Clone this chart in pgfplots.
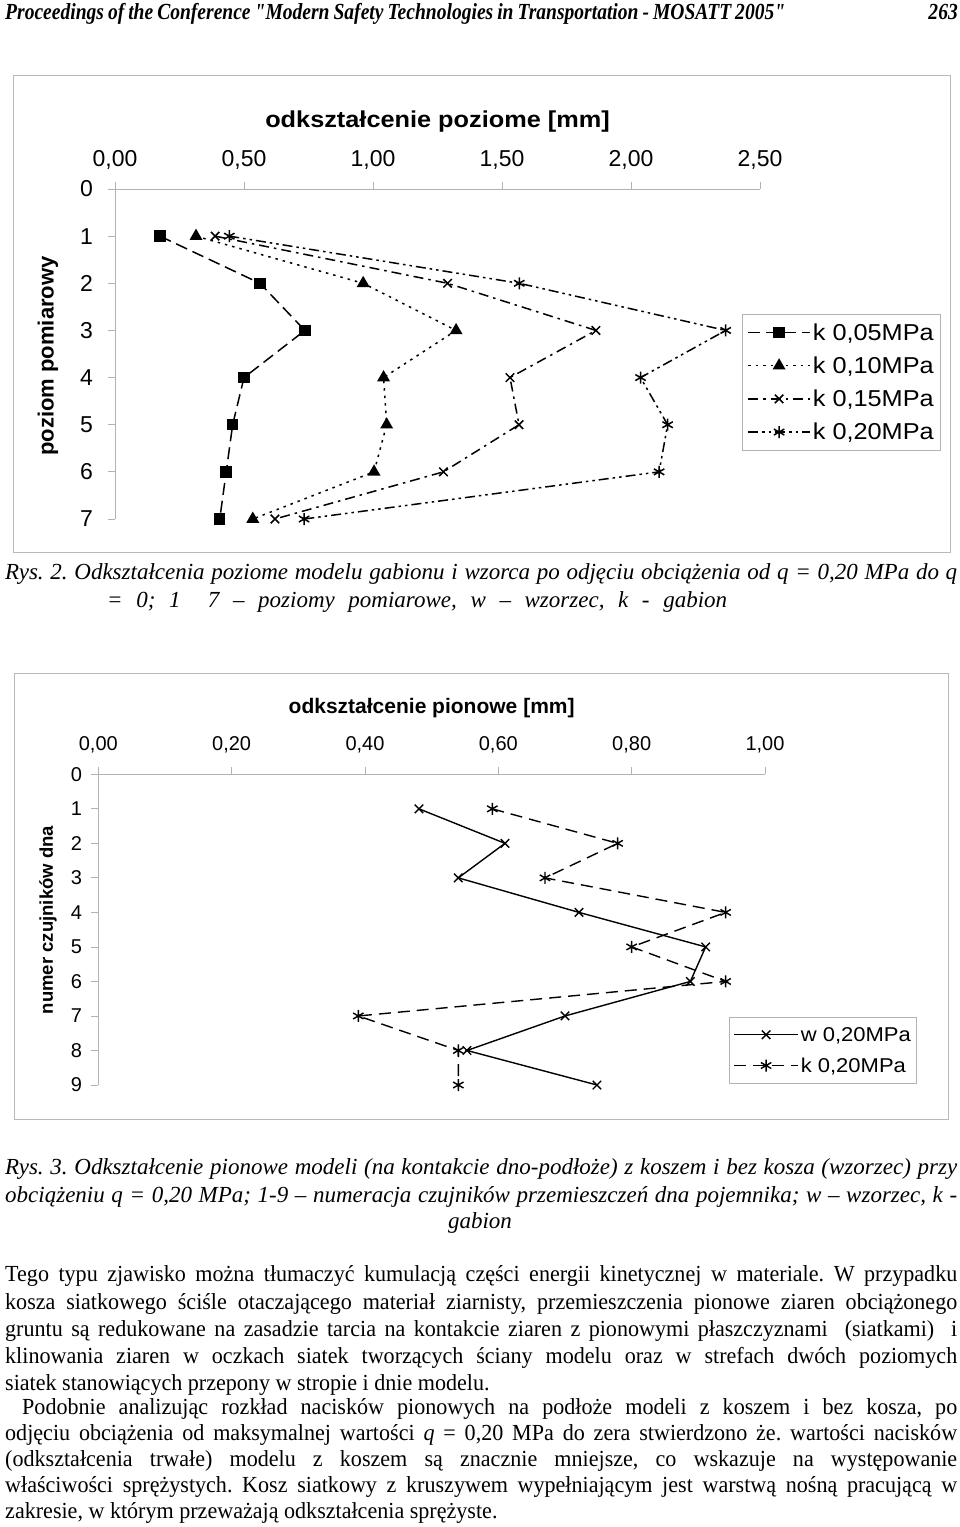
\documentclass[border=0pt]{standalone}
\usepackage{fontspec}
\setmainfont{Liberation Serif}[FakeStretch=0.96]
\newfontfamily\itf{Liberation Serif}[FakeStretch=1.0]
\newfontfamily\hdr{Liberation Serif}[FakeStretch=0.85, Ligatures=TeXOff]
\newfontfamily\arial{Liberation Sans}
\newfontfamily\arialx{Liberation Sans}[FakeStretch=1.1]
\usepackage{pgfplots}
\pgfplotsset{compat=1.18}
\frenchspacing
\newcommand\tf{\fontsize{23}{27}\selectfont\frenchspacing}
\newcommand\J[2]{\node[anchor=base west,inner sep=0pt,font=\tf] at (5pt,-#1pt) {\makebox[952pt][s]{#2}};}
\newcommand\JI[3]{\node[anchor=base west,inner sep=0pt,font=\tf] at (#1pt,-#2pt) {\makebox[\dimexpr957pt-#1pt\relax][s]{#3}};}
\newcommand\Lf[3]{\node[anchor=base west,inner sep=0pt,font=\tf] at (#1pt,-#2pt) {#3};}
\begin{document}
\begin{tikzpicture}
\useasboundingbox (0pt,0pt) rectangle (960pt,-1527pt);
% header
\node[anchor=base west,inner sep=0pt,font=\hdr\fontsize{23}{24}\selectfont\bfseries\itshape] at (5pt,-19pt) {\makebox[780pt][s]{Proceedings of the Conference "Modern Safety Technologies in Transportation - MOSATT 2005"}};
\node[anchor=base east,inner sep=0pt,font=\hdr\fontsize{23}{24}\selectfont\bfseries\itshape] at (958pt,-19pt) {263};
% frames
\draw[gray!55, line width=1pt] (13pt,-75pt) rectangle (950pt,-552pt);
\draw[gray!55, line width=1pt] (14pt,-673pt) rectangle (948pt,-1119pt);

% ---------- chart 1
\begin{axis}[
 at={(115pt,-189pt)}, anchor=north west,
 scale only axis, width=645pt, height=330pt,
 xmin=0, xmax=2.5, ymin=0, ymax=7,
 y dir=reverse,
 axis x line*=top, axis y line*=left,
 axis line style={-, draw=gray!60, line width=0.8pt},
 tick style={draw=gray!60, line width=0.8pt},
 tick align=outside, major tick length=7pt,
 xtick={0,0.5,1,1.5,2,2.5},
 xticklabels={{0,00},{0,50},{1,00},{1,50},{2,00},{2,50}},
 ytick={0,1,2,3,4,5,6,7},
 yticklabels={0,1,2,3,4,5,6,7},
 tick label style={font=\arial\fontsize{23}{23}\selectfont, inner sep=0pt},
 xticklabel shift=12pt, yticklabel shift=15pt,
 clip=false,
 title={odkształcenie poziome [mm]},
 title style={font=\arialx\bfseries\fontsize{23}{23}\selectfont, at={(axis description cs:0.5,1)}, anchor=base, yshift=56pt, inner sep=0pt},
 ylabel={poziom pomiarowy},
 every axis y label/.style={at={(axis description cs:-0.104,0.494)}, rotate=90, anchor=center, font=\arial\bfseries\fontsize{22}{22}\selectfont},
 legend style={at={(axis description cs:0.972,0.621)}, anchor=north west, draw=gray!60, line width=0.8pt,
   font=\arialx\fontsize{23}{23}\selectfont, row sep=11pt, inner xsep=5pt, inner ysep=7pt},
 legend cell align=left,
 legend image code/.code={\draw[mark repeat=2,mark phase=2] plot coordinates {(0pt,0pt)(31pt,0pt)(62pt,0pt)};},
 every axis plot/.append style={black, line width=1.5pt},
]
\addplot[dash pattern=on 12pt off 6pt, mark=square*, mark size=5pt, mark options={solid}] coordinates {
 (0.174,1)(0.562,2)(0.736,3)(0.500,4)(0.456,5)(0.431,6)(0.406,7)};
\addlegendentry{k 0,05MPa}
\addplot[dash pattern=on 2.5pt off 5pt, mark=triangle*, mark size=6pt, mark options={solid}] coordinates {
 (0.314,1)(0.962,2)(1.322,3)(1.041,4)(1.053,5)(1.004,6)(0.534,7)};
\addlegendentry{k 0,10MPa}
\addplot[dash pattern=on 10pt off 5pt on 2.5pt off 5pt, mark=x, mark size=6pt, mark options={solid}] coordinates {
 (0.388,1)(1.289,2)(1.864,3)(1.531,4)(1.566,5)(1.273,6)(0.620,7)};
\addlegendentry{k 0,15MPa}
\addplot[dash pattern=on 10pt off 4pt on 2.5pt off 4pt on 2.5pt off 4pt, mark=asterisk, mark size=6pt, mark options={solid}] coordinates {
 (0.443,1)(1.567,2)(2.367,3)(2.037,4)(2.142,5)(2.109,6)(0.733,7)};
\addlegendentry{k 0,20MPa}
\end{axis}

% ---------- chart 2
\begin{axis}[
 at={(98.3pt,-774.3pt)}, anchor=north west,
 scale only axis, width=666.7pt, height=310.7pt,
 xmin=0, xmax=1, ymin=0, ymax=9,
 y dir=reverse,
 axis x line*=top, axis y line*=left,
 axis line style={-, draw=gray!60, line width=0.8pt},
 tick style={draw=gray!60, line width=0.8pt},
 tick align=outside, major tick length=7pt,
 xtick={0,0.2,0.4,0.6,0.8,1},
 xticklabels={{0,00},{0,20},{0,40},{0,60},{0,80},{1,00}},
 ytick={0,1,2,3,4,5,6,7,8,9},
 yticklabels={0,1,2,3,4,5,6,7,8,9},
 tick label style={font=\arial\fontsize{20}{20}\selectfont, inner sep=0pt},
 xticklabel shift=14pt, yticklabel shift=9pt,
 clip=false,
 title={odkształcenie pionowe [mm]},
 title style={font=\arial\bfseries\fontsize{21}{21}\selectfont, at={(axis description cs:0.5,1)}, anchor=base, yshift=55pt, inner sep=0pt},
 ylabel={numer czujników dna},
 every axis y label/.style={at={(axis description cs:-0.0755,0.531)}, rotate=90, anchor=center, font=\arial\bfseries\fontsize{18.5}{18.5}\selectfont},
 legend style={at={(axis description cs:0.946,0.22)}, anchor=north west, draw=gray!60, line width=0.8pt,
   font=\arialx\fontsize{20}{20}\selectfont, row sep=11pt, inner xsep=4pt, inner ysep=8pt},
 legend cell align=left,
 legend image code/.code={\draw[mark repeat=2,mark phase=2] plot coordinates {(0pt,0pt)(32pt,0pt)(64pt,0pt)};},
 every axis plot/.append style={black, line width=1.4pt},
]
\addplot[solid, mark=x, mark size=6pt, mark options={solid}] coordinates {
 (0.481,1)(0.610,2)(0.540,3)(0.721,4)(0.911,5)(0.888,6)(0.700,7)(0.553,8)(0.748,9)};
\addlegendentry{w 0,20MPa}
\addplot[dash pattern=on 12pt off 7pt, mark=asterisk, mark size=6pt, mark options={solid}] coordinates {
 (0.591,1)(0.779,2)(0.670,3)(0.941,4)(0.800,5)(0.941,6)(0.390,7)(0.540,8)(0.540,9)};
\addlegendentry{k 0,20MPa}
\end{axis}

% captions
\J{579}{\itf\itshape Rys. 2. Odkształcenia poziome modelu gabionu i wzorca po odjęciu obciążenia od q = 0,20 MPa do q}
\Lf{107}{607}{\makebox[620pt][s]{\itf\itshape = 0; 1\ \ 7 – poziomy pomiarowe, w – wzorzec, k - gabion}}
\J{1174}{\itf\itshape Rys. 3. Odkształcenie pionowe modeli (na kontakcie dno-podłoże) z koszem i bez kosza (wzorzec) przy}
\J{1202}{\itf\itshape obciążeniu q = 0,20 MPa; 1-9 – numeracja czujników przemieszczeń dna pojemnika; w – wzorzec, k -}
\node[anchor=base,inner sep=0pt,font=\tf\itf\itshape] at (480pt,-1228pt) {gabion};
% body
\J{1281}{Tego typu zjawisko można tłumaczyć kumulacją części energii kinetycznej w materiale. W przypadku}
\J{1309}{kosza siatkowego ściśle otaczającego materiał ziarnisty, przemieszczenia pionowe ziaren obciążonego}
\J{1336}{gruntu są redukowane na zasadzie tarcia na kontakcie ziaren z pionowymi płaszczyznami \ (siatkami) \ i}
\J{1363}{klinowania ziaren w oczkach siatek tworzących ściany modelu oraz w strefach dwóch poziomych}
\Lf{5}{1390}{siatek stanowiących przepony w stropie i dnie modelu.}
\JI{22}{1414}{Podobnie analizując rozkład nacisków pionowych na podłoże modeli z koszem i bez kosza, po}
\J{1440}{odjęciu obciążenia od maksymalnej wartości \textit{q} = 0,20 MPa do zera stwierdzono że. wartości nacisków}
\J{1466}{(odkształcenia trwałe) modelu z koszem są znacznie mniejsze, co wskazuje na występowanie}
\J{1492}{właściwości sprężystych. Kosz siatkowy z kruszywem wypełniającym jest warstwą nośną pracującą w}
\Lf{5}{1518}{zakresie, w którym przeważają odkształcenia sprężyste.}
\end{tikzpicture}
\end{document}
